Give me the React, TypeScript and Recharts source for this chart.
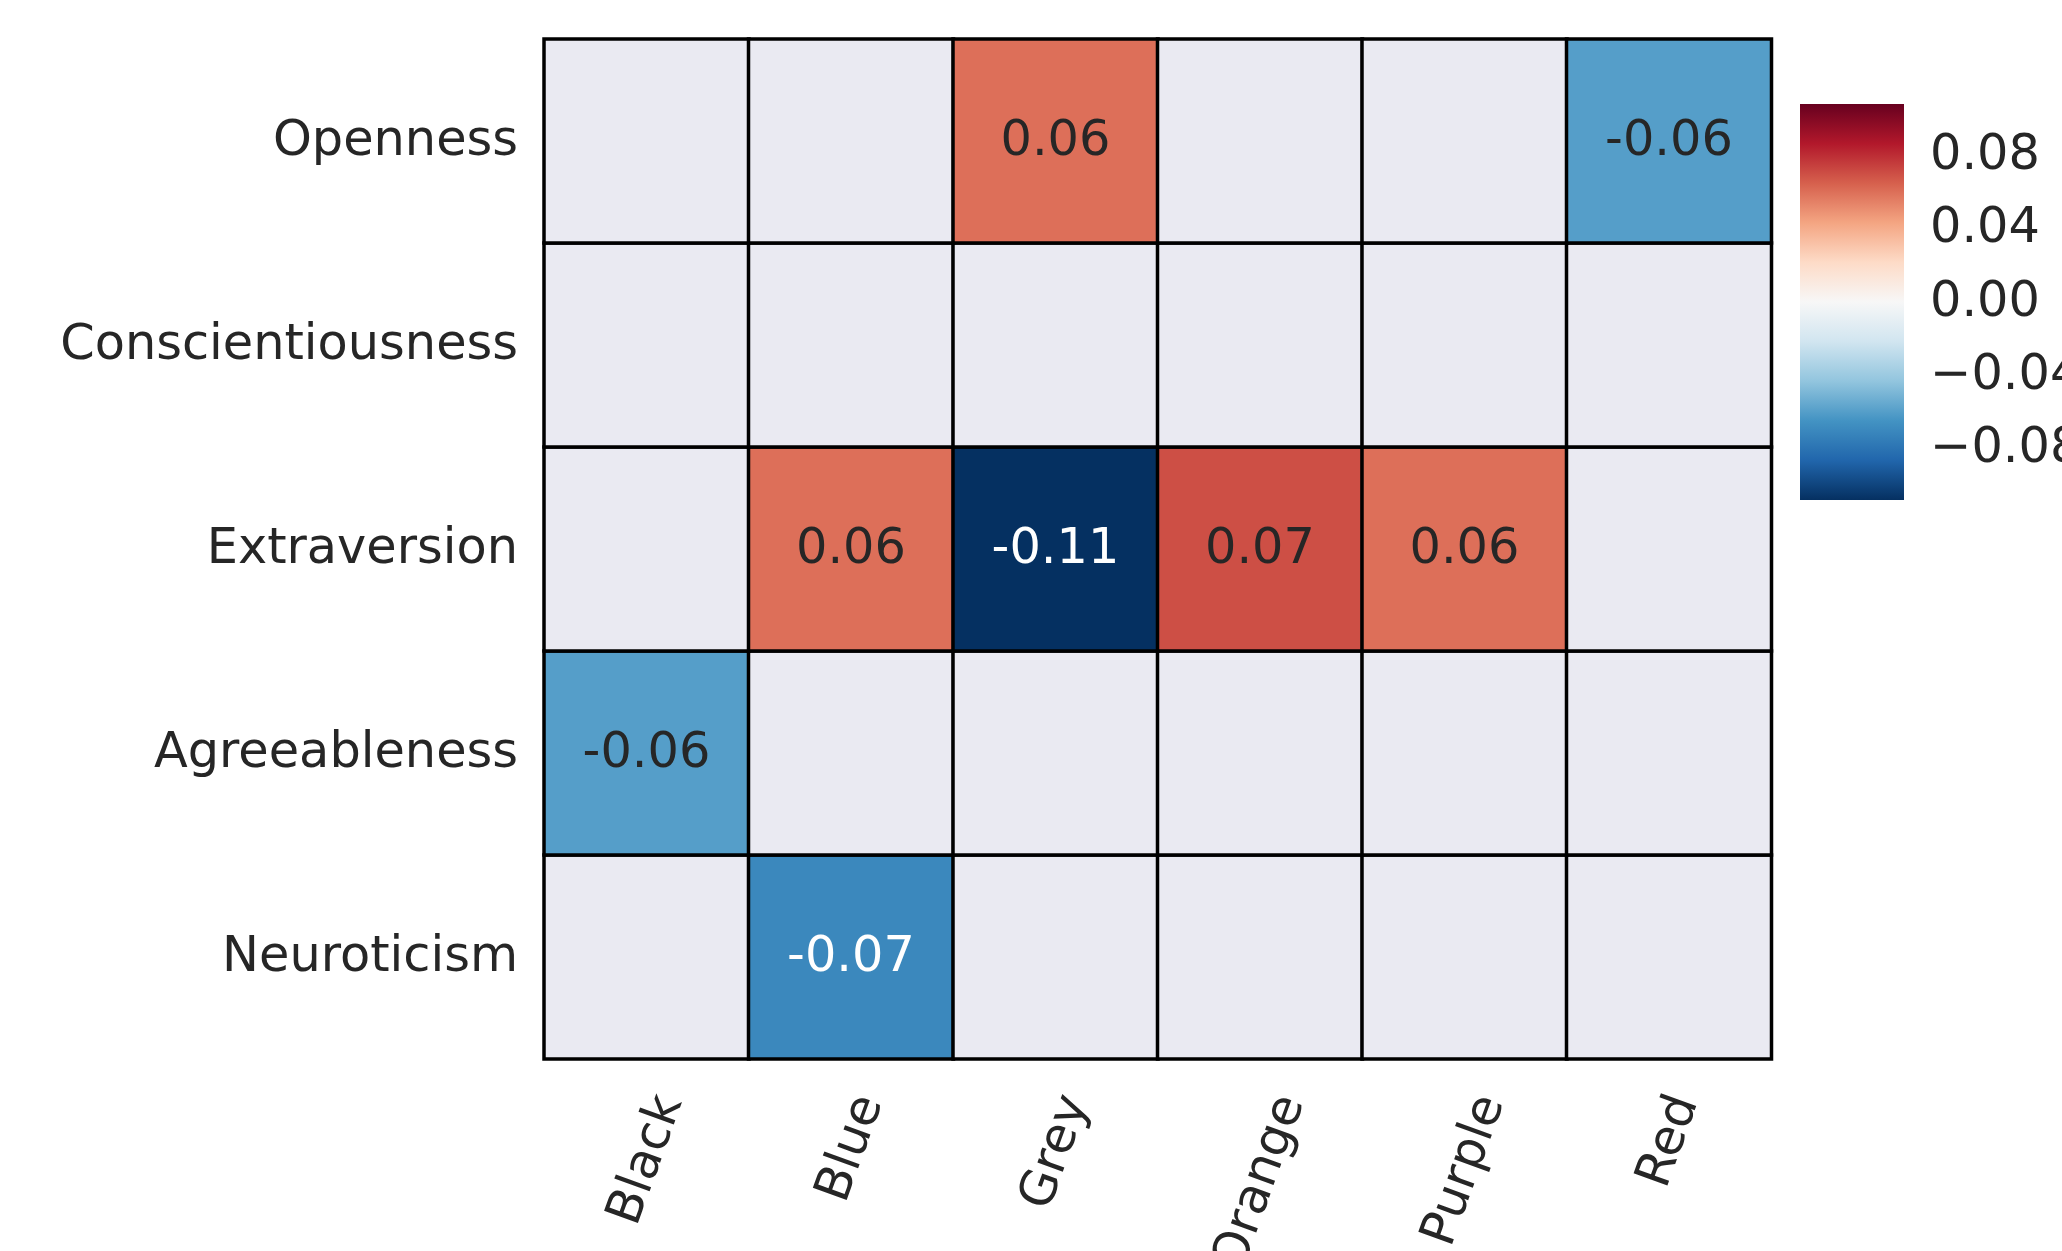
import React from 'react';
import { BarChart, Bar, XAxis, YAxis, Cell, LabelList } from 'recharts';

// Colour preference categories (columns) and Big Five traits (rows, top to bottom)
const colours = ['Black', 'Blue', 'Grey', 'Orange', 'Purple', 'Red'];
const traits = ['Openness', 'Conscientiousness', 'Extraversion', 'Agreeableness', 'Neuroticism'];

// Correlation of each trait with each colour; null = masked (not significant)
const openness = [null, null, 0.06, null, null, -0.06];
const conscientiousness = [null, null, null, null, null, null];
const extraversion = [null, 0.06, -0.11, 0.07, 0.06, null];
const agreeableness = [-0.06, null, null, null, null, null];
const neuroticism = [null, -0.07, null, null, null, null];

// Colour bar
const colourbarRange = [-0.108, 0.108];
const colourbarTicks = [-0.08, -0.04, 0, 0.04, 0.08];

const traitValues: Record<string, (number | null)[]> = {
  Openness: openness,
  Conscientiousness: conscientiousness,
  Extraversion: extraversion,
  Agreeableness: agreeableness,
  Neuroticism: neuroticism,
};

// RdBu_r colour stops
const RDBU_R = [
  '#053061', '#2166ac', '#4393c3', '#92c5de', '#d1e5f0', '#f7f7f7',
  '#fddbc7', '#f4a582', '#d6604d', '#b2182b', '#67001f',
];

const hexToRgb = (h: string) => [
  parseInt(h.slice(1, 3), 16),
  parseInt(h.slice(3, 5), 16),
  parseInt(h.slice(5, 7), 16),
];

function rdbu(v: number): number[] {
  const [lo, hi] = colourbarRange;
  let t = (v - lo) / (hi - lo);
  t = Math.max(0, Math.min(1, t));
  const pos = t * (RDBU_R.length - 1);
  const i = Math.min(Math.floor(pos), RDBU_R.length - 2);
  const f = pos - i;
  const a = hexToRgb(RDBU_R[i]);
  const b = hexToRgb(RDBU_R[i + 1]);
  return a.map((c, k) => Math.round(c + (b[k] - c) * f));
}

const rgbStr = (c: number[]) => `rgb(${c[0]},${c[1]},${c[2]})`;

// Annotations switch to white only on the strongest negative cells
const annotColour = (v: number) => (v <= -0.065 ? '#ffffff' : '#262626');

const MASK_FILL = '#eaeaf2';
const FONT = '"DejaVu Sans", sans-serif';
const FONT_SIZE = 49.4;
const TEXT = '#262626';

// Rows stacked from the bottom up
const stackOrder = [...traits].reverse();

const table = colours.map((colour) => {
  const row: Record<string, string | number> = { colour };
  traits.forEach((t) => {
    row[t] = 1;
  });
  return row;
});

let measureCtx: CanvasRenderingContext2D | null = null;
function measure(text: string) {
  if (!measureCtx) {
    const cv = document.createElement('canvas');
    measureCtx = cv.getContext('2d');
  }
  if (!measureCtx) return text.length * FONT_SIZE * 0.6;
  measureCtx.font = `${FONT_SIZE}px "DejaVu Sans"`;
  return measureCtx.measureText(text).width;
}

const YTick = (props: any) => {
  const { x, y, payload } = props;
  const idx = traits.length - 1 - Math.floor(payload.value);
  return (
    <text x={x} y={y + 13.8} textAnchor="end" fill={TEXT} fontFamily={FONT} fontSize={FONT_SIZE}>
      {traits[idx]}
    </text>
  );
};

const XTick = (props: any) => {
  const { x, y, payload } = props;
  const label = String(payload.value);
  const w = measure(label);
  const ang = (70 * Math.PI) / 180;
  const boxH = FONT_SIZE * 0.968;
  const cx = x;
  const cy = y + (w * Math.sin(ang) + boxH * Math.cos(ang)) / 2;
  return (
    <text
      x={cx}
      y={cy + 13.8}
      textAnchor="middle"
      fill={TEXT}
      fontFamily={FONT}
      fontSize={FONT_SIZE}
      transform={`rotate(-70 ${cx} ${cy})`}
    >
      {label}
    </text>
  );
};

const CbTick = (props: any) => {
  const { x, y, payload } = props;
  const v = Number(payload.value);
  const s = (v < 0 ? '\u2212' : '') + Math.abs(v).toFixed(2);
  return (
    <text x={x} y={y + 13.8} textAnchor="start" fill={TEXT} fontFamily={FONT} fontSize={FONT_SIZE}>
      {s}
    </text>
  );
};

const makeCellLabel = (values: (number | null)[]) => (p: any) => {
  const v = values[p.index];
  if (v === null || v === undefined) return null;
  const cx = Number(p.x) + Number(p.width) / 2;
  const cy = Number(p.y) + Number(p.height) / 2;
  return (
    <text x={cx} y={cy + 13.8} textAnchor="middle" fill={annotColour(v)} fontFamily={FONT} fontSize={FONT_SIZE}>
      {v.toFixed(2)}
    </text>
  );
};

const colourbarData = [{ name: 'cb', span: colourbarRange }];

export default function App() {
  return (
    <div
      style={{
        position: 'absolute',
        left: 0,
        top: 0,
        width: 2062,
        height: 1251,
        overflow: 'hidden',
        background: '#ffffff',
      }}
    >
      <div style={{ position: 'absolute', left: 0, top: 0 }}>
        <BarChart
          width={2062}
          height={1251}
          data={table}
          margin={{ top: 39, right: 291, bottom: 0, left: 0 }}
          barCategoryGap={0}
          barGap={0}
        >
          <XAxis
            dataKey="colour"
            type="category"
            height={192}
            axisLine={false}
            tickLine={false}
            tickSize={0}
            tickMargin={30}
            interval={0}
            tick={<XTick />}
          />
          <YAxis
            type="number"
            domain={[0, traits.length]}
            ticks={[0.5, 1.5, 2.5, 3.5, 4.5]}
            width={544}
            axisLine={false}
            tickLine={false}
            tickSize={0}
            tickMargin={26}
            interval={0}
            tick={<YTick />}
          />
          {stackOrder.map((trait) => (
            <Bar key={trait} dataKey={trait} stackId="grid" isAnimationActive={false}>
              {traitValues[trait].map((v, i) => (
                <Cell
                  key={i}
                  fill={v === null ? MASK_FILL : rgbStr(rdbu(v))}
                  stroke="#000000"
                  strokeWidth={3.5}
                />
              ))}
              <LabelList dataKey={trait} content={makeCellLabel(traitValues[trait])} />
            </Bar>
          ))}
        </BarChart>
      </div>
      <div style={{ position: 'absolute', left: 1800, top: 104 }}>
        <BarChart
          width={262}
          height={396}
          data={colourbarData}
          margin={{ top: 0, right: 0, bottom: 0, left: 0 }}
          barCategoryGap={0}
        >
          <defs>
            <linearGradient id="rdbuGrad" x1="0" y1="1" x2="0" y2="0">
              {RDBU_R.map((c, i) => (
                <stop key={i} offset={`${(i / (RDBU_R.length - 1)) * 100}%`} stopColor={c} />
              ))}
            </linearGradient>
          </defs>
          <XAxis dataKey="name" type="category" hide />
          <YAxis
            type="number"
            orientation="right"
            domain={colourbarRange}
            allowDataOverflow
            ticks={colourbarTicks}
            width={158}
            axisLine={false}
            tickLine={false}
            tickSize={0}
            tickMargin={26}
            interval={0}
            tick={<CbTick />}
          />
          <Bar dataKey="span" fill="url(#rdbuGrad)" isAnimationActive={false} />
        </BarChart>
      </div>
    </div>
  );
}
